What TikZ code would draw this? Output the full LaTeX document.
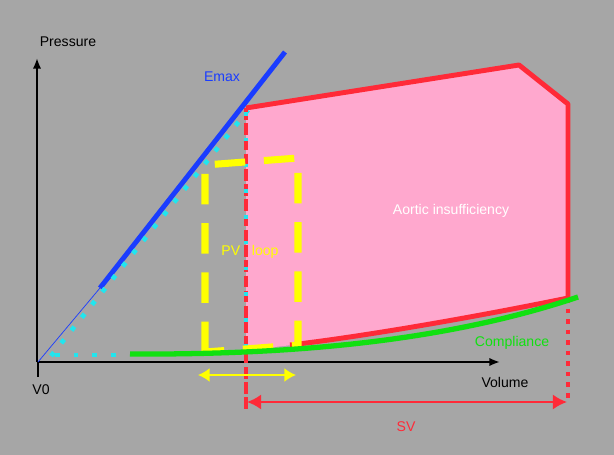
\documentclass[tikz,border=0pt]{standalone}
\usepackage{fontspec}
\setmainfont{Liberation Sans}
\usetikzlibrary{arrows.meta}
\definecolor{bg}{HTML}{A6A6A6}
\definecolor{pvred}{HTML}{FF2A38}
\definecolor{pvpink}{HTML}{FFA8CE}
\definecolor{pvblue}{HTML}{1A3CFF}
\definecolor{pvcyan}{HTML}{22E5EE}
\definecolor{pvgreen}{HTML}{11E011}
\definecolor{pvyellow}{HTML}{FFFF00}
\tikzset{lbl/.style={font=\fontsize{12}{14}\selectfont, inner sep=1pt}}
\begin{document}
\begin{tikzpicture}[x=0.03cm,y=-0.03cm]
    \fill[bg] (0,0) rectangle (614,455);
    % pink region
    \fill[pvpink] (246,108) -- (519,65) -- (568,104) -- (568,298) .. controls (450,322) and (350,340) .. (246,350) -- cycle;
    \draw[pvred, line width=4.2pt, line join=bevel] (246,108) -- (519,65) -- (568,104) -- (568,298);
    \draw[pvred, line width=4.2pt] (568,298) .. controls (450,322) and (350,338) .. (290,345);
    % axes
    \coordinate (o) at (37,362);
    \draw[-{Latex[length=9pt,width=7pt]}, line width=1.6pt] (o) -- (37,58);
    \draw[-{Latex[length=9pt,width=7pt]}, line width=1.6pt] (o) -- (500,362);
    \draw[line width=1.3pt] (38,362) -- (38,377);
    % Emax
    \draw[pvblue, line width=0.6pt] (38,362) -- (100,288);
    \draw[pvblue, line width=4.2pt] (100,288) -- (285,52);
    % cyan dotted
    \draw[pvcyan, line width=4pt, dash pattern=on 4pt off 10pt] (51,356) -- (248,110);
    \draw[pvcyan, line width=4pt, dash pattern=on 4pt off 12pt] (55,355) -- (130,355);
    % red dashed / dotted
    \draw[pvred, line width=3.5pt, dash pattern=on 10pt off 3pt] (246,108) -- (246,412);
    \draw[pvcyan, line width=3.5pt, dash pattern=on 3pt off 19pt] (246,112) -- (246,355);
    \draw[pvred, line width=3.5pt, dash pattern=on 4pt off 5pt] (568,298) -- (568,402);
    % yellow loop
    \draw[pvyellow, line width=6pt, dash pattern=on 26pt off 16pt]
        (205,352) -- (205,165) -- (298,158) -- (298,345) -- cycle;
    % compliance
    \draw[pvgreen, line width=4.5pt] (130,354) .. controls (300,355) and (450,340) .. (578,297);
    % arrows
    \draw[pvyellow, line width=1.6pt, {Latex[length=10pt,width=12pt]}-{Latex[length=10pt,width=12pt]}] (198,375) -- (296,375);
    \draw[pvred, line width=2.2pt, {Latex[length=12pt,width=13pt]}-{Latex[length=12pt,width=13pt]}] (247,402) -- (567,402);
    % labels
    \node[lbl] (p) at (68,42) {Pressure};
    \node[lbl] (v0) at (41,390) {V0};
    \node[lbl] (vol) at (505,382) {Volume};
    \node[lbl, text=pvblue] (emax) at (222,77) {Emax};
    \node[lbl, text=pvyellow] (pv) at (250,252) {PV\ \ \ loop};
    \node[lbl, text=white] (ai) at (451,211) {Aortic insufficiency};
    \node[lbl, text=pvgreen] (comp) at (512,343) {Compliance};
    \node[lbl, text=pvred] (sv) at (406,427) {SV};
\end{tikzpicture}
\end{document}
